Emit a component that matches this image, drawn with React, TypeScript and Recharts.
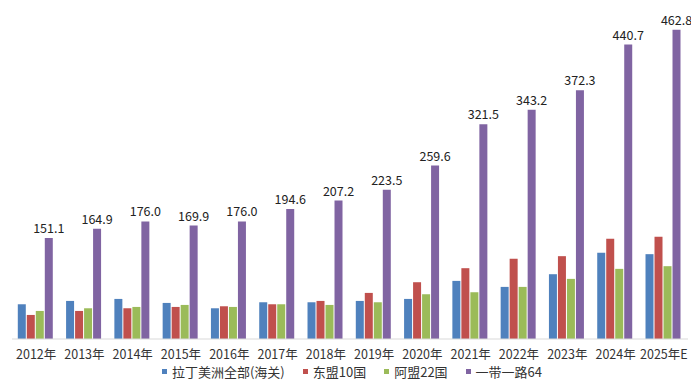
import { BarChart, Bar, XAxis, YAxis, Legend, LabelList } from "recharts";

const years = [
  "2012年", "2013年", "2014年", "2015年", "2016年", "2017年", "2018年",
  "2019年", "2020年", "2021年", "2022年", "2023年", "2024年", "2025年E",
];
const latam = [52, 57, 60, 54, 46, 55, 55, 57, 60, 87, 78, 97, 129, 127];
const asean = [36, 42, 46, 48, 49, 52, 57, 69, 85, 106, 120, 124, 150, 153];
const arab = [42, 46, 48, 51, 48, 52, 51, 55, 67, 70, 78, 90, 105, 109];
const beltRoad = [
  151.1, 164.9, 176.0, 169.9, 176.0, 194.6, 207.2, 223.5, 259.6, 321.5, 343.2,
  372.3, 440.7, 462.8,
];

const series = [
  { key: "latam", name: "拉丁美洲全部(海关)", color: "#4F81BD" },
  { key: "asean", name: "东盟10国", color: "#C0504D" },
  { key: "arab", name: "阿盟22国", color: "#9BBB59" },
  { key: "beltRoad", name: "一带一路64", color: "#8064A2" },
];

const data = years.map((year, i) => ({
  year,
  latam: latam[i],
  asean: asean[i],
  arab: arab[i],
  beltRoad: beltRoad[i],
}));

const font = '"Noto Sans CJK SC", "Noto Sans", sans-serif';

// recharts sorts legend items by name, so draw our own in series order
function LegendRow() {
  return (
    <div style={{ display: "flex", justifyContent: "center", gap: 18, fontSize: 13, lineHeight: "19px", color: "#333", paddingLeft: 4, marginTop: 1 }}>
      {series.map((s) => (
        <span key={s.key} style={{ display: "flex", alignItems: "center" }}>
          <span style={{ width: 5, height: 5, background: s.color, marginRight: 5, display: "inline-block" }} />
          {s.name}
        </span>
      ))}
    </div>
  );
}

export default function App() {
  return (
    <div style={{ position: "absolute", left: 0, top: 0, fontFamily: font }}>
      <BarChart
        width={691}
        height={380}
        data={data}
        margin={{ top: 5, right: 3, left: 12, bottom: 0 }}
        barCategoryGap="12%"
        barGap={1}
      >
        <XAxis
          dataKey="year"
          height={22}
          tickLine={false}
          tickMargin={5}
          axisLine={{ stroke: "#d9d9d9" }}
          tick={{ fontSize: 12.5, fill: "#333", fontFamily: font }}
          interval={0}
        />
        <YAxis hide domain={[0, 500]} />
        <Legend verticalAlign="bottom" height={19} content={() => <LegendRow />} />
        {series.map((s) => (
          <Bar key={s.key} dataKey={s.key} name={s.name} fill={s.color} isAnimationActive={false}>
            {s.key === "beltRoad" && (
              <LabelList
                dataKey="beltRoad"
                position="top"
                offset={5}
                formatter={(v: number) => v.toFixed(1)}
                style={{ fontSize: 12.5, fill: "#222", fontFamily: font }}
              />
            )}
          </Bar>
        ))}
      </BarChart>
    </div>
  );
}
